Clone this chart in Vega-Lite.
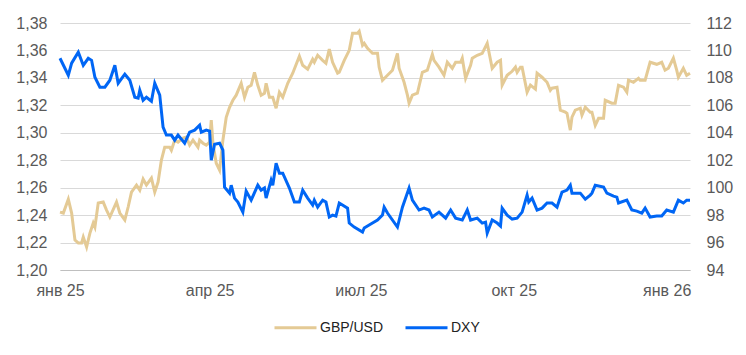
{
  "$schema": "https://vega.github.io/schema/vega-lite/v6.json",
  "width": 630,
  "height": 247,
  "autosize": {"type": "none"},
  "padding": {"left": 60, "top": 23, "right": 56, "bottom": 85},
  "config": {
    "font": "Liberation Sans",
    "view": {"stroke": null},
    "axis": {"labelFont": "Liberation Sans", "labelFontSize": 16, "labelColor": "#595959", "ticks": false, "domain": false, "title": null}
  },
  "datasets": {
    "gbp": [
      {"date":"2025-01-01","series":"GBP/USD","value":1.2422},
      {"date":"2025-01-03","series":"GBP/USD","value":1.2415},
      {"date":"2025-01-06","series":"GBP/USD","value":1.2516},
      {"date":"2025-01-08","series":"GBP/USD","value":1.2415},
      {"date":"2025-01-10","series":"GBP/USD","value":1.2218},
      {"date":"2025-01-12","series":"GBP/USD","value":1.2197},
      {"date":"2025-01-14","series":"GBP/USD","value":1.2197},
      {"date":"2025-01-15","series":"GBP/USD","value":1.2240},
      {"date":"2025-01-17","series":"GBP/USD","value":1.2167},
      {"date":"2025-01-19","series":"GBP/USD","value":1.2269},
      {"date":"2025-01-21","series":"GBP/USD","value":1.2342},
      {"date":"2025-01-22","series":"GBP/USD","value":1.2313},
      {"date":"2025-01-24","series":"GBP/USD","value":1.2488},
      {"date":"2025-01-27","series":"GBP/USD","value":1.2495},
      {"date":"2025-01-29","series":"GBP/USD","value":1.2437},
      {"date":"2025-01-31","series":"GBP/USD","value":1.2386},
      {"date":"2025-02-04","series":"GBP/USD","value":1.2495},
      {"date":"2025-02-06","series":"GBP/USD","value":1.2415},
      {"date":"2025-02-09","series":"GBP/USD","value":1.2364},
      {"date":"2025-02-11","series":"GBP/USD","value":1.2459},
      {"date":"2025-02-13","series":"GBP/USD","value":1.2568},
      {"date":"2025-02-16","series":"GBP/USD","value":1.2619},
      {"date":"2025-02-18","series":"GBP/USD","value":1.2582},
      {"date":"2025-02-20","series":"GBP/USD","value":1.2662},
      {"date":"2025-02-22","series":"GBP/USD","value":1.2619},
      {"date":"2025-02-25","series":"GBP/USD","value":1.2670},
      {"date":"2025-02-27","series":"GBP/USD","value":1.2568},
      {"date":"2025-03-01","series":"GBP/USD","value":1.2641},
      {"date":"2025-03-03","series":"GBP/USD","value":1.2801},
      {"date":"2025-03-05","series":"GBP/USD","value":1.2895},
      {"date":"2025-03-08","series":"GBP/USD","value":1.2895},
      {"date":"2025-03-09","series":"GBP/USD","value":1.2873},
      {"date":"2025-03-11","series":"GBP/USD","value":1.2946},
      {"date":"2025-03-13","series":"GBP/USD","value":1.2932},
      {"date":"2025-03-16","series":"GBP/USD","value":1.2961},
      {"date":"2025-03-18","series":"GBP/USD","value":1.2968},
      {"date":"2025-03-20","series":"GBP/USD","value":1.2910},
      {"date":"2025-03-22","series":"GBP/USD","value":1.2946},
      {"date":"2025-03-25","series":"GBP/USD","value":1.2895},
      {"date":"2025-03-26","series":"GBP/USD","value":1.2946},
      {"date":"2025-03-28","series":"GBP/USD","value":1.2924},
      {"date":"2025-03-30","series":"GBP/USD","value":1.2910},
      {"date":"2025-04-01","series":"GBP/USD","value":1.2932},
      {"date":"2025-04-02","series":"GBP/USD","value":1.3092},
      {"date":"2025-04-03","series":"GBP/USD","value":1.2924},
      {"date":"2025-04-05","series":"GBP/USD","value":1.2778},
      {"date":"2025-04-07","series":"GBP/USD","value":1.2728},
      {"date":"2025-04-09","series":"GBP/USD","value":1.2946},
      {"date":"2025-04-11","series":"GBP/USD","value":1.3113},
      {"date":"2025-04-13","series":"GBP/USD","value":1.3186},
      {"date":"2025-04-15","series":"GBP/USD","value":1.3237},
      {"date":"2025-04-17","series":"GBP/USD","value":1.3274},
      {"date":"2025-04-20","series":"GBP/USD","value":1.3361},
      {"date":"2025-04-22","series":"GBP/USD","value":1.3259},
      {"date":"2025-04-24","series":"GBP/USD","value":1.3332},
      {"date":"2025-04-26","series":"GBP/USD","value":1.3346},
      {"date":"2025-04-28","series":"GBP/USD","value":1.3441},
      {"date":"2025-04-30","series":"GBP/USD","value":1.3346},
      {"date":"2025-05-02","series":"GBP/USD","value":1.3274},
      {"date":"2025-05-04","series":"GBP/USD","value":1.3288},
      {"date":"2025-05-05","series":"GBP/USD","value":1.3361},
      {"date":"2025-05-07","series":"GBP/USD","value":1.3259},
      {"date":"2025-05-09","series":"GBP/USD","value":1.3259},
      {"date":"2025-05-11","series":"GBP/USD","value":1.3179},
      {"date":"2025-05-13","series":"GBP/USD","value":1.3295},
      {"date":"2025-05-15","series":"GBP/USD","value":1.3259},
      {"date":"2025-05-18","series":"GBP/USD","value":1.3361},
      {"date":"2025-05-21","series":"GBP/USD","value":1.3434},
      {"date":"2025-05-25","series":"GBP/USD","value":1.3558},
      {"date":"2025-05-27","series":"GBP/USD","value":1.3492},
      {"date":"2025-05-30","series":"GBP/USD","value":1.3463},
      {"date":"2025-06-02","series":"GBP/USD","value":1.3536},
      {"date":"2025-06-03","series":"GBP/USD","value":1.3514},
      {"date":"2025-06-05","series":"GBP/USD","value":1.3565},
      {"date":"2025-06-08","series":"GBP/USD","value":1.3528},
      {"date":"2025-06-10","series":"GBP/USD","value":1.3507},
      {"date":"2025-06-12","series":"GBP/USD","value":1.3609},
      {"date":"2025-06-14","series":"GBP/USD","value":1.3514},
      {"date":"2025-06-17","series":"GBP/USD","value":1.3434},
      {"date":"2025-06-18","series":"GBP/USD","value":1.3441},
      {"date":"2025-06-21","series":"GBP/USD","value":1.3528},
      {"date":"2025-06-24","series":"GBP/USD","value":1.3601},
      {"date":"2025-06-26","series":"GBP/USD","value":1.3725},
      {"date":"2025-06-29","series":"GBP/USD","value":1.3725},
      {"date":"2025-06-30","series":"GBP/USD","value":1.3740},
      {"date":"2025-07-02","series":"GBP/USD","value":1.3638},
      {"date":"2025-07-03","series":"GBP/USD","value":1.3652},
      {"date":"2025-07-05","series":"GBP/USD","value":1.3616},
      {"date":"2025-07-08","series":"GBP/USD","value":1.3579},
      {"date":"2025-07-11","series":"GBP/USD","value":1.3579},
      {"date":"2025-07-12","series":"GBP/USD","value":1.3477},
      {"date":"2025-07-14","series":"GBP/USD","value":1.3383},
      {"date":"2025-07-17","series":"GBP/USD","value":1.3419},
      {"date":"2025-07-20","series":"GBP/USD","value":1.3456},
      {"date":"2025-07-23","series":"GBP/USD","value":1.3579},
      {"date":"2025-07-24","series":"GBP/USD","value":1.3470},
      {"date":"2025-07-27","series":"GBP/USD","value":1.3368},
      {"date":"2025-07-29","series":"GBP/USD","value":1.3274},
      {"date":"2025-07-30","series":"GBP/USD","value":1.3216},
      {"date":"2025-08-01","series":"GBP/USD","value":1.3274},
      {"date":"2025-08-04","series":"GBP/USD","value":1.3288},
      {"date":"2025-08-07","series":"GBP/USD","value":1.3441},
      {"date":"2025-08-10","series":"GBP/USD","value":1.3456},
      {"date":"2025-08-13","series":"GBP/USD","value":1.3572},
      {"date":"2025-08-14","series":"GBP/USD","value":1.3528},
      {"date":"2025-08-17","series":"GBP/USD","value":1.3478},
      {"date":"2025-08-20","series":"GBP/USD","value":1.3419},
      {"date":"2025-08-22","series":"GBP/USD","value":1.3514},
      {"date":"2025-08-25","series":"GBP/USD","value":1.3470},
      {"date":"2025-08-27","series":"GBP/USD","value":1.3514},
      {"date":"2025-08-30","series":"GBP/USD","value":1.3514},
      {"date":"2025-08-31","series":"GBP/USD","value":1.3543},
      {"date":"2025-09-02","series":"GBP/USD","value":1.3397},
      {"date":"2025-09-05","series":"GBP/USD","value":1.3492},
      {"date":"2025-09-06","series":"GBP/USD","value":1.3543},
      {"date":"2025-09-09","series":"GBP/USD","value":1.3565},
      {"date":"2025-09-12","series":"GBP/USD","value":1.3579},
      {"date":"2025-09-15","series":"GBP/USD","value":1.3652},
      {"date":"2025-09-18","series":"GBP/USD","value":1.3470},
      {"date":"2025-09-21","series":"GBP/USD","value":1.3514},
      {"date":"2025-09-23","series":"GBP/USD","value":1.3528},
      {"date":"2025-09-24","series":"GBP/USD","value":1.3347},
      {"date":"2025-09-27","series":"GBP/USD","value":1.3419},
      {"date":"2025-09-30","series":"GBP/USD","value":1.3448},
      {"date":"2025-10-02","series":"GBP/USD","value":1.3478},
      {"date":"2025-10-03","series":"GBP/USD","value":1.3441},
      {"date":"2025-10-05","series":"GBP/USD","value":1.3478},
      {"date":"2025-10-06","series":"GBP/USD","value":1.3478},
      {"date":"2025-10-09","series":"GBP/USD","value":1.3296},
      {"date":"2025-10-11","series":"GBP/USD","value":1.3347},
      {"date":"2025-10-14","series":"GBP/USD","value":1.3318},
      {"date":"2025-10-15","series":"GBP/USD","value":1.3434},
      {"date":"2025-10-18","series":"GBP/USD","value":1.3405},
      {"date":"2025-10-21","series":"GBP/USD","value":1.3368},
      {"date":"2025-10-23","series":"GBP/USD","value":1.3310},
      {"date":"2025-10-24","series":"GBP/USD","value":1.3325},
      {"date":"2025-10-27","series":"GBP/USD","value":1.3332},
      {"date":"2025-10-29","series":"GBP/USD","value":1.3165},
      {"date":"2025-11-01","series":"GBP/USD","value":1.3150},
      {"date":"2025-11-02","series":"GBP/USD","value":1.3142},
      {"date":"2025-11-04","series":"GBP/USD","value":1.3019},
      {"date":"2025-11-05","series":"GBP/USD","value":1.3114},
      {"date":"2025-11-07","series":"GBP/USD","value":1.3165},
      {"date":"2025-11-10","series":"GBP/USD","value":1.3179},
      {"date":"2025-11-11","series":"GBP/USD","value":1.3128},
      {"date":"2025-11-13","series":"GBP/USD","value":1.3186},
      {"date":"2025-11-16","series":"GBP/USD","value":1.3150},
      {"date":"2025-11-17","series":"GBP/USD","value":1.3150},
      {"date":"2025-11-19","series":"GBP/USD","value":1.3055},
      {"date":"2025-11-21","series":"GBP/USD","value":1.3106},
      {"date":"2025-11-24","series":"GBP/USD","value":1.3106},
      {"date":"2025-11-25","series":"GBP/USD","value":1.3237},
      {"date":"2025-11-29","series":"GBP/USD","value":1.3216},
      {"date":"2025-12-01","series":"GBP/USD","value":1.3216},
      {"date":"2025-12-03","series":"GBP/USD","value":1.3346},
      {"date":"2025-12-06","series":"GBP/USD","value":1.3332},
      {"date":"2025-12-08","series":"GBP/USD","value":1.3296},
      {"date":"2025-12-09","series":"GBP/USD","value":1.3383},
      {"date":"2025-12-12","series":"GBP/USD","value":1.3368},
      {"date":"2025-12-15","series":"GBP/USD","value":1.3397},
      {"date":"2025-12-16","series":"GBP/USD","value":1.3383},
      {"date":"2025-12-19","series":"GBP/USD","value":1.3383},
      {"date":"2025-12-22","series":"GBP/USD","value":1.3514},
      {"date":"2025-12-26","series":"GBP/USD","value":1.3499},
      {"date":"2025-12-29","series":"GBP/USD","value":1.3514},
      {"date":"2025-12-31","series":"GBP/USD","value":1.3456},
      {"date":"2026-01-02","series":"GBP/USD","value":1.3470},
      {"date":"2026-01-05","series":"GBP/USD","value":1.3543},
      {"date":"2026-01-07","series":"GBP/USD","value":1.3456},
      {"date":"2026-01-08","series":"GBP/USD","value":1.3405},
      {"date":"2026-01-11","series":"GBP/USD","value":1.3470},
      {"date":"2026-01-13","series":"GBP/USD","value":1.3419},
      {"date":"2026-01-15","series":"GBP/USD","value":1.3434}
    ],
    "dxy": [
      {"date":"2025-01-01","series":"DXY","value":109.43},
      {"date":"2025-01-06","series":"DXY","value":108.19},
      {"date":"2025-01-08","series":"DXY","value":109.07},
      {"date":"2025-01-12","series":"DXY","value":109.87},
      {"date":"2025-01-15","series":"DXY","value":108.92},
      {"date":"2025-01-18","series":"DXY","value":109.43},
      {"date":"2025-01-20","series":"DXY","value":109.28},
      {"date":"2025-01-22","series":"DXY","value":108.05},
      {"date":"2025-01-25","series":"DXY","value":107.32},
      {"date":"2025-01-28","series":"DXY","value":107.32},
      {"date":"2025-01-31","series":"DXY","value":107.83},
      {"date":"2025-02-03","series":"DXY","value":108.92},
      {"date":"2025-02-05","series":"DXY","value":107.61},
      {"date":"2025-02-09","series":"DXY","value":108.27},
      {"date":"2025-02-12","series":"DXY","value":107.83},
      {"date":"2025-02-15","series":"DXY","value":106.59},
      {"date":"2025-02-17","series":"DXY","value":106.52},
      {"date":"2025-02-18","series":"DXY","value":107.10},
      {"date":"2025-02-20","series":"DXY","value":106.37},
      {"date":"2025-02-22","series":"DXY","value":106.59},
      {"date":"2025-02-25","series":"DXY","value":106.30},
      {"date":"2025-02-27","series":"DXY","value":107.61},
      {"date":"2025-03-02","series":"DXY","value":106.74},
      {"date":"2025-03-04","series":"DXY","value":104.41},
      {"date":"2025-03-06","series":"DXY","value":103.83},
      {"date":"2025-03-09","series":"DXY","value":103.83},
      {"date":"2025-03-11","series":"DXY","value":103.46},
      {"date":"2025-03-13","series":"DXY","value":103.83},
      {"date":"2025-03-17","series":"DXY","value":103.24},
      {"date":"2025-03-20","series":"DXY","value":104.04},
      {"date":"2025-03-23","series":"DXY","value":104.19},
      {"date":"2025-03-26","series":"DXY","value":104.55},
      {"date":"2025-03-27","series":"DXY","value":104.04},
      {"date":"2025-03-30","series":"DXY","value":104.19},
      {"date":"2025-04-01","series":"DXY","value":104.12},
      {"date":"2025-04-02","series":"DXY","value":102.01},
      {"date":"2025-04-04","series":"DXY","value":103.17},
      {"date":"2025-04-07","series":"DXY","value":103.24},
      {"date":"2025-04-09","series":"DXY","value":102.73},
      {"date":"2025-04-10","series":"DXY","value":100.04},
      {"date":"2025-04-13","series":"DXY","value":99.60},
      {"date":"2025-04-14","series":"DXY","value":100.18},
      {"date":"2025-04-16","series":"DXY","value":99.24},
      {"date":"2025-04-18","series":"DXY","value":98.95},
      {"date":"2025-04-21","series":"DXY","value":98.22},
      {"date":"2025-04-23","series":"DXY","value":99.75},
      {"date":"2025-04-26","series":"DXY","value":99.09},
      {"date":"2025-04-30","series":"DXY","value":100.18},
      {"date":"2025-05-02","series":"DXY","value":99.82},
      {"date":"2025-05-04","series":"DXY","value":99.97},
      {"date":"2025-05-05","series":"DXY","value":99.24},
      {"date":"2025-05-08","series":"DXY","value":100.55},
      {"date":"2025-05-09","series":"DXY","value":100.18},
      {"date":"2025-05-11","series":"DXY","value":101.78},
      {"date":"2025-05-13","series":"DXY","value":101.05},
      {"date":"2025-05-15","series":"DXY","value":101.05},
      {"date":"2025-05-19","series":"DXY","value":99.97},
      {"date":"2025-05-22","series":"DXY","value":98.95},
      {"date":"2025-05-25","series":"DXY","value":98.95},
      {"date":"2025-05-27","series":"DXY","value":99.82},
      {"date":"2025-05-30","series":"DXY","value":99.24},
      {"date":"2025-06-02","series":"DXY","value":98.73},
      {"date":"2025-06-03","series":"DXY","value":99.09},
      {"date":"2025-06-05","series":"DXY","value":98.58},
      {"date":"2025-06-08","series":"DXY","value":99.09},
      {"date":"2025-06-10","series":"DXY","value":98.95},
      {"date":"2025-06-12","series":"DXY","value":97.86},
      {"date":"2025-06-14","series":"DXY","value":98.00},
      {"date":"2025-06-16","series":"DXY","value":97.93},
      {"date":"2025-06-18","series":"DXY","value":98.88},
      {"date":"2025-06-23","series":"DXY","value":98.51},
      {"date":"2025-06-24","series":"DXY","value":97.42},
      {"date":"2025-06-27","series":"DXY","value":97.13},
      {"date":"2025-07-02","series":"DXY","value":96.77},
      {"date":"2025-07-03","series":"DXY","value":97.06},
      {"date":"2025-07-08","series":"DXY","value":97.42},
      {"date":"2025-07-11","series":"DXY","value":97.64},
      {"date":"2025-07-14","series":"DXY","value":98.00},
      {"date":"2025-07-15","series":"DXY","value":98.58},
      {"date":"2025-07-17","series":"DXY","value":98.15},
      {"date":"2025-07-23","series":"DXY","value":97.13},
      {"date":"2025-07-26","series":"DXY","value":98.58},
      {"date":"2025-07-30","series":"DXY","value":99.97},
      {"date":"2025-08-01","series":"DXY","value":99.09},
      {"date":"2025-08-05","series":"DXY","value":98.37},
      {"date":"2025-08-08","series":"DXY","value":98.51},
      {"date":"2025-08-11","series":"DXY","value":98.37},
      {"date":"2025-08-13","series":"DXY","value":97.86},
      {"date":"2025-08-17","series":"DXY","value":98.22},
      {"date":"2025-08-21","series":"DXY","value":97.78},
      {"date":"2025-08-24","series":"DXY","value":98.37},
      {"date":"2025-08-27","series":"DXY","value":97.78},
      {"date":"2025-08-31","series":"DXY","value":97.64},
      {"date":"2025-09-03","series":"DXY","value":98.37},
      {"date":"2025-09-05","series":"DXY","value":97.64},
      {"date":"2025-09-09","series":"DXY","value":97.78},
      {"date":"2025-09-12","series":"DXY","value":97.42},
      {"date":"2025-09-14","series":"DXY","value":97.49},
      {"date":"2025-09-15","series":"DXY","value":96.69},
      {"date":"2025-09-18","series":"DXY","value":97.64},
      {"date":"2025-09-21","series":"DXY","value":97.42},
      {"date":"2025-09-23","series":"DXY","value":97.20},
      {"date":"2025-09-24","series":"DXY","value":98.51},
      {"date":"2025-09-27","series":"DXY","value":98.00},
      {"date":"2025-09-30","series":"DXY","value":97.71},
      {"date":"2025-10-03","series":"DXY","value":97.78},
      {"date":"2025-10-06","series":"DXY","value":98.22},
      {"date":"2025-10-09","series":"DXY","value":99.46},
      {"date":"2025-10-10","series":"DXY","value":98.95},
      {"date":"2025-10-12","series":"DXY","value":99.24},
      {"date":"2025-10-15","series":"DXY","value":98.37},
      {"date":"2025-10-18","series":"DXY","value":98.51},
      {"date":"2025-10-21","series":"DXY","value":98.88},
      {"date":"2025-10-24","series":"DXY","value":98.88},
      {"date":"2025-10-27","series":"DXY","value":98.58},
      {"date":"2025-10-30","series":"DXY","value":99.68},
      {"date":"2025-11-02","series":"DXY","value":99.82},
      {"date":"2025-11-04","series":"DXY","value":100.18},
      {"date":"2025-11-05","series":"DXY","value":99.60},
      {"date":"2025-11-10","series":"DXY","value":99.60},
      {"date":"2025-11-13","series":"DXY","value":99.16},
      {"date":"2025-11-16","series":"DXY","value":99.46},
      {"date":"2025-11-17","series":"DXY","value":99.60},
      {"date":"2025-11-19","series":"DXY","value":100.18},
      {"date":"2025-11-24","series":"DXY","value":100.04},
      {"date":"2025-11-26","series":"DXY","value":99.60},
      {"date":"2025-11-30","series":"DXY","value":99.38},
      {"date":"2025-12-02","series":"DXY","value":99.31},
      {"date":"2025-12-03","series":"DXY","value":98.88},
      {"date":"2025-12-08","series":"DXY","value":99.09},
      {"date":"2025-12-11","series":"DXY","value":98.37},
      {"date":"2025-12-14","series":"DXY","value":98.29},
      {"date":"2025-12-17","series":"DXY","value":98.15},
      {"date":"2025-12-19","series":"DXY","value":98.51},
      {"date":"2025-12-22","series":"DXY","value":97.86},
      {"date":"2025-12-26","series":"DXY","value":97.93},
      {"date":"2025-12-29","series":"DXY","value":97.93},
      {"date":"2026-01-01","series":"DXY","value":98.37},
      {"date":"2026-01-05","series":"DXY","value":98.22},
      {"date":"2026-01-08","series":"DXY","value":99.09},
      {"date":"2026-01-11","series":"DXY","value":98.88},
      {"date":"2026-01-13","series":"DXY","value":99.09},
      {"date":"2026-01-15","series":"DXY","value":99.09}
    ]
  },
  "encoding": {
    "x": {
      "field": "date",
      "type": "temporal",
      "scale": {"type": "utc", "domain": [{"year": 2025, "month": 1, "date": 1, "utc": true}, {"year": 2026, "month": 1, "date": 15, "utc": true}]},
      "axis": {
        "values": [
          {"year": 2025, "month": 1, "date": 1, "utc": true},
          {"year": 2025, "month": 4, "date": 1, "utc": true},
          {"year": 2025, "month": 7, "date": 1, "utc": true},
          {"year": 2025, "month": 10, "date": 1, "utc": true},
          {"year": 2026, "month": 1, "date": 1, "utc": true}
        ],
        "labelExpr": "['янв','фев','мар','апр','май','июн','июл','авг','сен','окт','ноя','дек'][utcmonth(datum.value)] + ' ' + utcFormat(datum.value, '%y')",
        "grid": false,
        "domain": true,
        "domainColor": "#bfbfbf",
        "domainWidth": 1,
        "labelPadding": 12,
        "labelFlush": false,
        "labelOverlap": false
      }
    },
    "color": {
      "field": "series",
      "type": "nominal",
      "scale": {"domain": ["GBP/USD", "DXY"], "range": ["#e4ca95", "#0066f5"]},
      "legend": {
        "title": null,
        "orient": "none",
        "direction": "horizontal",
        "legendX": 213,
        "legendY": 282,
        "symbolType": "stroke",
        "symbolSize": 1764,
        "symbolStrokeWidth": 3,
        "labelFontSize": 14,
        "labelColor": "#222222",
        "labelFont": "Liberation Sans",
        "labelOffset": 2,
        "columnPadding": 15
      }
    }
  },
  "layer": [
    {
      "data": {"name": "gbp"},
      "mark": {"type": "line", "strokeWidth": 3, "interpolate": "linear"},
      "encoding": {
        "y": {
          "field": "value",
          "type": "quantitative",
          "scale": {"domain": [1.2, 1.38], "zero": false, "nice": false},
          "axis": {
            "orient": "left",
            "values": [1.2, 1.22, 1.24, 1.26, 1.28, 1.3, 1.32, 1.34, 1.36, 1.38],
            "labelExpr": "replace(format(datum.value, '.2f'), '.', ',')",
            "grid": true,
            "gridColor": "#d9d9d9",
            "gridWidth": 1,
            "labelPadding": 13
          }
        }
      }
    },
    {
      "data": {"name": "dxy"},
      "mark": {"type": "line", "strokeWidth": 3, "interpolate": "linear"},
      "encoding": {
        "y": {
          "field": "value",
          "type": "quantitative",
          "scale": {"domain": [94, 112], "zero": false, "nice": false},
          "axis": {
            "orient": "right",
            "values": [94, 96, 98, 100, 102, 104, 106, 108, 110, 112],
            "grid": false,
            "labelPadding": 16
          }
        }
      }
    }
  ],
  "resolve": {"scale": {"y": "independent"}}
}
